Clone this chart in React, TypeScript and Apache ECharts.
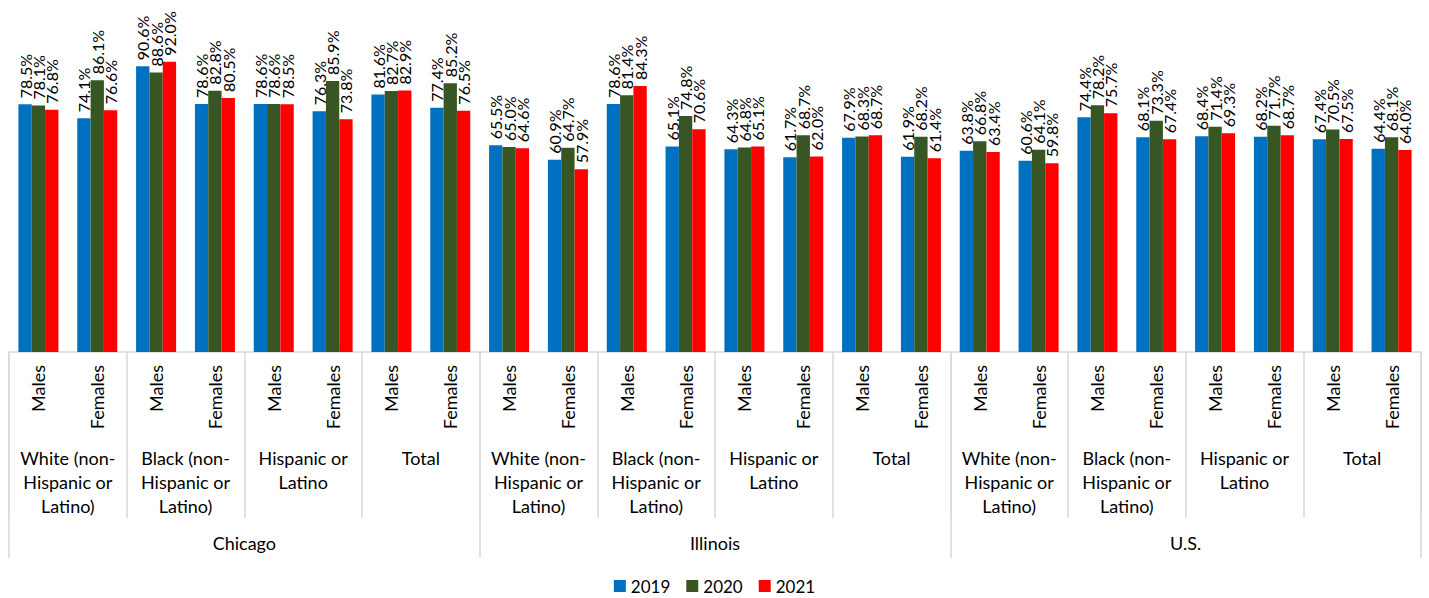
import React, { useEffect, useRef } from "react";
import * as echarts from "echarts";

// Sub-categories along the x axis (24 bar groups)
const sexes = [
  "Males", "Females", "Males", "Females", "Males", "Females", "Males", "Females",
  "Males", "Females", "Males", "Females", "Males", "Females", "Males", "Females",
  "Males", "Females", "Males", "Females", "Males", "Females", "Males", "Females",
];

// Race/ethnicity groups (each spans two sub-categories)
const groups = [
  "White (non-\nHispanic or\nLatino)", "Black (non-\nHispanic or\nLatino)", "Hispanic or\nLatino", "Total",
  "White (non-\nHispanic or\nLatino)", "Black (non-\nHispanic or\nLatino)", "Hispanic or\nLatino", "Total",
  "White (non-\nHispanic or\nLatino)", "Black (non-\nHispanic or\nLatino)", "Hispanic or\nLatino", "Total",
];

// Geographic regions (each spans eight sub-categories)
const regions = ["Chicago", "Illinois", "U.S."];

const years = ["2019", "2020", "2021"];

const values2019 = [
  78.5, 74.1, 90.6, 78.6, 78.6, 76.3, 81.6, 77.4,
  65.5, 60.9, 78.6, 65.1, 64.3, 61.7, 67.9, 61.9,
  63.8, 60.6, 74.4, 68.1, 68.4, 68.2, 67.4, 64.4,
];
const values2020 = [
  78.1, 86.1, 88.6, 82.8, 78.6, 85.9, 82.7, 85.2,
  65.0, 64.7, 81.4, 74.8, 64.8, 68.7, 68.3, 68.2,
  66.8, 64.1, 78.2, 73.3, 71.4, 71.7, 70.5, 68.1,
];
const values2021 = [
  76.8, 76.6, 92.0, 80.5, 78.5, 73.8, 82.9, 76.5,
  64.6, 57.9, 84.3, 70.6, 65.1, 62.0, 68.7, 61.4,
  63.4, 59.8, 75.7, 67.4, 69.3, 68.7, 67.5, 64.0,
];

const colors = ["#0070C0", "#375623", "#FF0000"];
const FONT = "Lato, 'Noto Sans', sans-serif";
const LINE = "#d9d9d9";

export default function App() {
  const ref = useRef<HTMLDivElement>(null);

  useEffect(() => {
    if (!ref.current) return;
    const chart = echarts.init(ref.current, null, { renderer: "svg" });
    const seriesData = [values2019, values2020, values2021];

    chart.setOption({
      animation: false,
      textStyle: { fontFamily: FONT },
      grid: { left: 9, right: 8, top: 36.5, bottom: 246, containLabel: false },
      legend: {
        data: years,
        top: 576,
        left: "center",
        padding: 0,
        icon: "rect",
        itemWidth: 12,
        itemHeight: 12,
        itemGap: 16,
        textStyle: { fontSize: 17, lineHeight: 20, color: "#000", fontFamily: FONT },
      },
      xAxis: [
        {
          type: "category",
          data: sexes,
          position: "bottom",
          axisLine: { show: true, lineStyle: { color: LINE, width: 1.5 } },
          axisTick: {
            show: true,
            interval: (i: number) => i % 2 === 0,
            length: 166,
            lineStyle: { color: LINE, width: 1.5 },
          },
          axisLabel: {
            interval: 0,
            rotate: 90,
            margin: 13,
            fontSize: 18,
            color: "#000",
            fontFamily: FONT,
          },
        },
        {
          type: "category",
          data: groups,
          position: "bottom",
          axisLine: { show: false },
          axisTick: { show: false },
          axisLabel: {
            interval: 0,
            margin: 94,
            fontSize: 18,
            lineHeight: 24,
            color: "#000",
            fontFamily: FONT,
          },
        },
        {
          type: "category",
          data: regions,
          position: "bottom",
          axisLine: { show: false },
          axisTick: {
            show: true,
            interval: 0,
            length: 206,
            lineStyle: { color: LINE, width: 1.5 },
          },
          axisLabel: {
            interval: 0,
            margin: 181,
            fontSize: 18,
            lineHeight: 20,
            color: "#000",
            fontFamily: FONT,
          },
        },
      ],
      yAxis: { type: "value", min: 0, max: 100, show: false, splitLine: { show: false } },
      series: years.map((y, k) => ({
        name: y,
        type: "bar",
        xAxisIndex: 0,
        data: seriesData[k],
        barGap: "0%",
        barCategoryGap: "32%",
        itemStyle: { color: colors[k] },
        label: {
          show: true,
          position: "top",
          rotate: 90,
          align: "left",
          verticalAlign: "middle",
          distance: 6,
          fontSize: 16,
          color: "#000",
          fontFamily: FONT,
          formatter: (p: any) => p.value.toFixed(1) + "%",
        },
      })),
    });

    return () => chart.dispose();
  }, []);

  return (
    <div
      ref={ref}
      style={{ position: "fixed", left: 0, top: 0, width: 1429, height: 598, background: "#fff" }}
    />
  );
}
